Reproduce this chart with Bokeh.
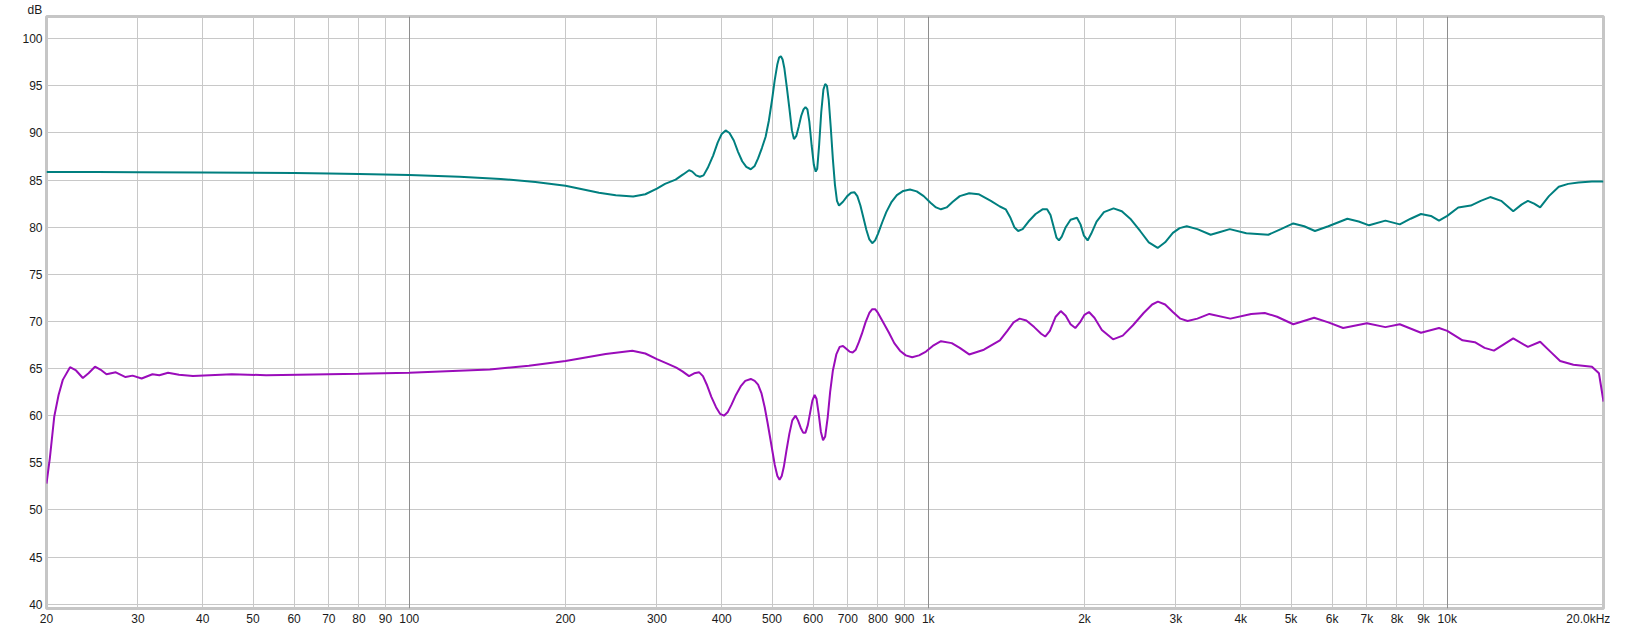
from bokeh.plotting import figure
from bokeh.models import FixedTicker, Grid, Range1d
from bokeh.embed import file_html
from bokeh.resources import INLINE

# ---- data ----
teal_freq = [20, 25, 30, 40, 50, 60, 70, 80, 100, 125, 150, 175, 200, 232, 250, 270, 285, 300,
             311, 326, 337, 346, 351, 357, 363, 369, 376, 385, 393, 400, 407, 414, 422, 430, 438,
             446, 455, 463, 470, 478, 486, 493, 500, 506, 512, 516, 520, 524, 528, 534, 540, 546,
             551, 557, 563, 569, 575, 580, 585, 590, 596, 602, 607, 611, 616, 622, 628, 633, 638,
             643, 649, 655, 661, 667, 673, 685, 698, 710, 721, 730, 740, 750, 760, 770, 780, 790,
             800, 815, 830, 850, 870, 895, 922, 950, 980, 1010, 1035, 1058, 1085, 1115, 1150,
             1199, 1250, 1320, 1374, 1410, 1440, 1465, 1490, 1520, 1560, 1610, 1660, 1694, 1720,
             1745, 1766, 1786, 1808, 1840, 1880, 1934, 1965, 1995, 2028, 2060, 2110, 2180, 2275,
             2360, 2450, 2560, 2660, 2767, 2860, 2960, 3050, 3148, 3300, 3500, 3650, 3810, 4100,
             4520, 4780, 5050, 5300, 5560, 5900, 6420, 6750, 7070, 7600, 8100, 8500, 8900, 9300,
             9640, 10000, 10500, 11100, 11600, 12100, 12700, 13400, 13900, 14300, 14700, 15100,
             15700, 16400, 17100, 17900, 19000, 20000]
teal_db = [85.85, 85.85, 85.83, 85.8, 85.78, 85.75, 85.7, 85.65, 85.55, 85.35, 85.12, 84.8, 84.4,
           83.65, 83.4, 83.26, 83.5, 84.1, 84.6, 85.05, 85.6, 86.05, 85.9, 85.5, 85.35, 85.5, 86.3,
           87.6, 89.0, 89.9, 90.27, 90.0, 89.2, 88.0, 87.0, 86.4, 86.15, 86.5, 87.3, 88.4, 89.6,
           91.3, 93.5, 95.6, 97.3, 98.0, 98.15, 97.8, 96.9, 94.8, 92.6, 90.3, 89.35, 89.7, 90.7,
           91.8, 92.5, 92.75, 92.5, 91.2, 88.7, 86.6, 85.9, 86.2, 88.6, 92.2, 94.6, 95.2, 95.0,
           93.5, 90.5, 87.2, 84.5, 82.8, 82.3, 82.7, 83.3, 83.65, 83.7, 83.3, 82.3, 81.0, 79.7,
           78.7, 78.3, 78.6, 79.3, 80.5, 81.6, 82.7, 83.4, 83.85, 84.0, 83.8, 83.3, 82.6, 82.1,
           81.9, 82.1, 82.7, 83.3, 83.6, 83.5, 82.8, 82.2, 81.9, 81.0, 80.0, 79.6, 79.8, 80.6,
           81.4, 81.9, 81.9, 81.3, 80.0, 78.9, 78.6, 79.0, 80.0, 80.8, 81.0, 80.3, 79.1, 78.6,
           79.3, 80.6, 81.6, 82.0, 81.7, 80.9, 79.6, 78.4, 77.8, 78.4, 79.4, 79.9, 80.1, 79.8,
           79.2, 79.5, 79.8, 79.35, 79.2, 79.8, 80.4, 80.1, 79.6, 80.1, 80.9, 80.6, 80.2, 80.7,
           80.3, 80.9, 81.4, 81.2, 80.7, 81.2, 82.1, 82.3, 82.8, 83.2, 82.8, 81.7, 82.4, 82.8,
           82.5, 82.1, 83.3, 84.3, 84.6, 84.75, 84.84, 84.86]

purple_freq = [20, 20.3, 20.7, 21.1, 21.5, 22.2, 22.8, 23.5, 24.1, 24.8, 25.4, 26.1, 27.2, 28.4,
               29.3, 30.5, 32.0, 33.0, 34.3, 36, 38.3, 45.5, 53, 61, 80, 100, 143, 170, 200, 239,
               269, 285, 300, 315, 327, 336, 346, 354, 362, 368, 375, 382, 390, 397, 404, 411,
               418, 426, 435, 444, 455, 463, 470, 477, 484, 490, 495, 501, 506, 512, 517, 522,
               527, 533, 540, 547, 555, 561, 568, 574, 580, 586, 592, 598, 604, 609, 615, 621,
               627, 633, 640, 647, 655, 665, 675, 685, 695, 705, 715, 725, 735, 745, 757, 770,
               780, 790, 800, 815, 840, 860, 882, 905, 931, 960, 990, 1020, 1058, 1110, 1150,
               1199, 1280, 1374, 1420, 1460, 1500, 1545, 1600, 1650, 1680, 1715, 1760, 1800,
               1840, 1880, 1920, 1960, 2000, 2040, 2090, 2160, 2270, 2370, 2480, 2600, 2700,
               2770, 2860, 2960, 3060, 3160, 3300, 3480, 3820, 4190, 4450, 4700, 5050, 5540,
               5900, 6300, 7000, 7600, 8100, 8900, 9640, 10000, 10700, 11300, 11800, 12300,
               13400, 14300, 15100, 15800, 16500, 17500, 19000, 19600, 20000]
purple_db = [52.8, 55.5, 59.9, 62.2, 63.8, 65.15, 64.8, 64.0, 64.5, 65.2, 64.9, 64.4, 64.6, 64.1,
             64.25, 63.95, 64.4, 64.3, 64.55, 64.35, 64.2, 64.4, 64.3, 64.35, 64.45, 64.55, 64.9,
             65.3, 65.8, 66.55, 66.9, 66.6, 66.0, 65.5, 65.1, 64.7, 64.2, 64.5, 64.6, 64.2, 63.2,
             62.0, 60.9, 60.2, 60.0, 60.4, 61.2, 62.2, 63.1, 63.7, 63.9, 63.7, 63.3, 62.4, 60.9,
             59.3, 57.9, 56.2, 54.8, 53.6, 53.2, 53.6, 54.6, 56.3, 58.1, 59.5, 60.0, 59.5, 58.7,
             58.2, 58.2, 59.0, 60.3, 61.6, 62.2, 61.8, 60.2, 58.3, 57.4, 57.8, 59.8, 62.5, 64.8,
             66.5, 67.3, 67.4, 67.1, 66.8, 66.7, 67.0, 67.8, 68.7, 69.9, 70.9, 71.3, 71.3, 70.9,
             70.1, 68.8, 67.7, 66.9, 66.4, 66.2, 66.4, 66.8, 67.4, 67.9, 67.7, 67.2, 66.5, 67.0,
             68.0, 69.0, 69.9, 70.3, 70.1, 69.4, 68.7, 68.4, 69.0, 70.5, 71.1, 70.6, 69.7, 69.3,
             69.9, 70.7, 71.0, 70.4, 69.1, 68.1, 68.5, 69.6, 70.9, 71.8, 72.1, 71.8, 71.0, 70.3,
             70.05, 70.3, 70.8, 70.3, 70.8, 70.9, 70.5, 69.7, 70.4, 69.9, 69.3, 69.8, 69.4, 69.7,
             68.8, 69.3, 69.0, 68.0, 67.8, 67.2, 66.9, 68.2, 67.3, 67.85, 66.8, 65.8, 65.4, 65.2,
             64.5, 61.5]

x_minor_grid = [20, 30, 40, 50, 60, 70, 80, 90, 200, 300, 400, 500, 600, 700, 800, 900,
                2000, 3000, 4000, 5000, 6000, 7000, 8000, 9000]
x_decade_grid = [100, 1000, 10000]
x_tick_vals = [20, 30, 40, 50, 60, 70, 80, 90, 100, 200, 300, 400, 500, 600, 700, 800, 900,
               1000, 2000, 3000, 4000, 5000, 6000, 7000, 8000, 9000, 10000, 18700]
x_tick_labels = ["20", "30", "40", "50", "60", "70", "80", "90", "100", "200", "300", "400",
                 "500", "600", "700", "800", "900", "1k", "2k", "3k", "4k", "5k", "6k", "7k",
                 "8k", "9k", "10k", "20.0kHz"]
y_tick_vals = [40, 45, 50, 55, 60, 65, 70, 75, 80, 85, 90, 95, 100]
y_tick_labels = [str(v) for v in y_tick_vals]
y_unit_label = "dB"

TEAL = "#007f7f"
PURPLE = "#9a0cba"
FONT = "Liberation Sans"

p = figure(width=1610, height=628, x_axis_type="log", output_backend="svg",
           toolbar_location=None, x_range=Range1d(20, 20000), y_range=Range1d(39.54, 102.36),
           min_border_left=46, min_border_right=7, min_border_top=14, min_border_bottom=0,
           background_fill_color="white", border_fill_color="white",
           title=y_unit_label)

p.title.align = "left"
p.title.offset = -19
p.title.standoff = 0
p.title.text_font = FONT
p.title.text_font_size = "12px"
p.title.text_font_style = "normal"
p.title.text_color = "#1a1a1a"

p.outline_line_color = "#c6c6c6"
p.outline_line_width = 3

for ax in (p.xaxis[0], p.yaxis[0]):
    ax.axis_line_color = None
    ax.major_tick_line_color = None
    ax.minor_tick_line_color = None
    ax.major_tick_out = 0
    ax.major_tick_in = 0
    ax.minor_tick_out = 0
    ax.minor_tick_in = 0
    ax.major_label_text_font = FONT
    ax.major_label_text_font_size = "12px"
    ax.major_label_text_color = "#1a1a1a"

p.xaxis[0].ticker = FixedTicker(ticks=x_tick_vals)
p.xaxis[0].major_label_overrides = {v: l for v, l in zip(x_tick_vals, x_tick_labels)}
p.xaxis[0].major_label_standoff = 3
p.yaxis[0].ticker = FixedTicker(ticks=y_tick_vals)
p.yaxis[0].major_label_overrides = {v: l for v, l in zip(y_tick_vals, y_tick_labels)}
p.yaxis[0].major_label_standoff = 4

p.xgrid.ticker = FixedTicker(ticks=x_minor_grid)
p.xgrid.grid_line_color = "#c8c8c8"
p.ygrid.ticker = FixedTicker(ticks=y_tick_vals)
p.ygrid.grid_line_color = "#c8c8c8"
p.add_layout(Grid(dimension=0, ticker=FixedTicker(ticks=x_decade_grid), grid_line_color="#8e8e8e"))

p.line(teal_freq, teal_db, line_color=TEAL, line_width=2)
p.line(purple_freq, purple_db, line_color=PURPLE, line_width=2)

open("out.html", "w").write(file_html(p, INLINE))
